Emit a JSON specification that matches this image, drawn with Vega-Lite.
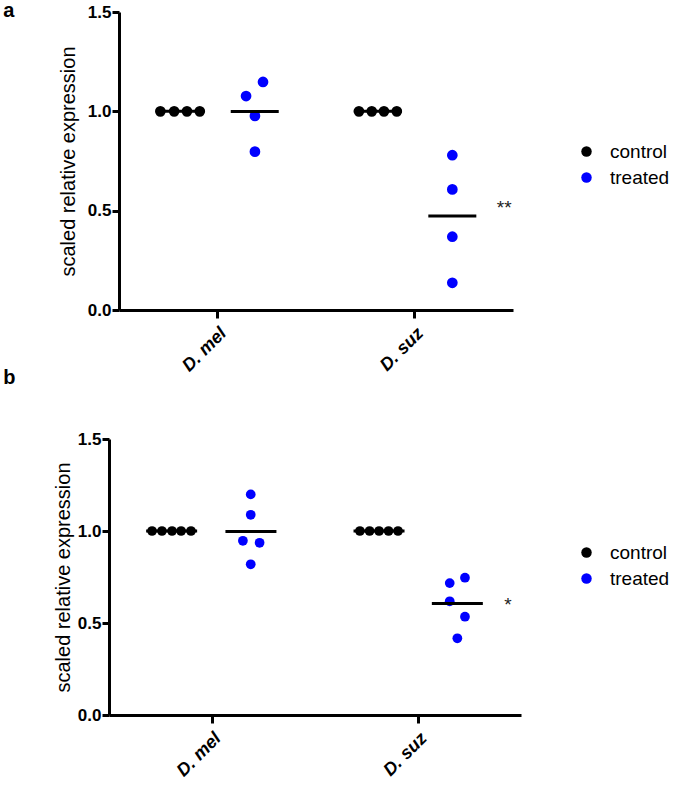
{
  "$schema": "https://vega.github.io/schema/vega-lite/v6.json",
  "padding": {"left": 3, "top": 1, "right": 0, "bottom": 0},
  "background": "white",
  "spacing": -7,
  "config": {
    "font": "Liberation Sans",
    "view": {"stroke": null},
    "axis": {
      "domainColor": "black", "domainWidth": 3, "tickColor": "black", "tickWidth": 3, "tickSize": 7,
      "labelColor": "black", "labelFont": "Liberation Sans", "labelFontWeight": "bold", "grid": false,
      "titleColor": "black", "titleFont": "Liberation Sans"
    },
    "legend": {
      "title": null, "labelFontSize": 19, "symbolSize": 110, "symbolType": "circle", "labelOffset": 14,
      "rowPadding": 6, "labelColor": "black", "labelFont": "Liberation Sans", "padding": 0
    },
    "title": {"font": "Liberation Sans", "fontSize": 20, "fontWeight": "bold", "color": "black", "anchor": "start", "frame": "bounds"}
  },
  "datasets": {
    "a": [
      {"species": "D. mel", "group": "control", "value": 1.0, "jitter": -0.29},
      {"species": "D. mel", "group": "control", "value": 1.0, "jitter": -0.22},
      {"species": "D. mel", "group": "control", "value": 1.0, "jitter": -0.155},
      {"species": "D. mel", "group": "control", "value": 1.0, "jitter": -0.09},
      {"species": "D. mel", "group": "treated", "value": 1.077, "jitter": 0.145},
      {"species": "D. mel", "group": "treated", "value": 1.148, "jitter": 0.231},
      {"species": "D. mel", "group": "treated", "value": 0.977, "jitter": 0.19},
      {"species": "D. mel", "group": "treated", "value": 0.797, "jitter": 0.19},
      {"species": "D. suz", "group": "control", "value": 1.0, "jitter": -0.282},
      {"species": "D. suz", "group": "control", "value": 1.0, "jitter": -0.217},
      {"species": "D. suz", "group": "control", "value": 1.0, "jitter": -0.155},
      {"species": "D. suz", "group": "control", "value": 1.0, "jitter": -0.09},
      {"species": "D. suz", "group": "treated", "value": 0.779, "jitter": 0.192},
      {"species": "D. suz", "group": "treated", "value": 0.607, "jitter": 0.192},
      {"species": "D. suz", "group": "treated", "value": 0.369, "jitter": 0.192},
      {"species": "D. suz", "group": "treated", "value": 0.137, "jitter": 0.192}
    ],
    "b": [
      {"species": "D. mel", "group": "control", "value": 1.0, "jitter": -0.291},
      {"species": "D. mel", "group": "control", "value": 1.0, "jitter": -0.243},
      {"species": "D. mel", "group": "control", "value": 1.0, "jitter": -0.194},
      {"species": "D. mel", "group": "control", "value": 1.0, "jitter": -0.15},
      {"species": "D. mel", "group": "control", "value": 1.0, "jitter": -0.102},
      {"species": "D. mel", "group": "treated", "value": 1.199, "jitter": 0.188},
      {"species": "D. mel", "group": "treated", "value": 1.088, "jitter": 0.188},
      {"species": "D. mel", "group": "treated", "value": 0.947, "jitter": 0.15},
      {"species": "D. mel", "group": "treated", "value": 0.936, "jitter": 0.231},
      {"species": "D. mel", "group": "treated", "value": 0.819, "jitter": 0.188},
      {"species": "D. suz", "group": "control", "value": 1.0, "jitter": -0.282},
      {"species": "D. suz", "group": "control", "value": 1.0, "jitter": -0.235},
      {"species": "D. suz", "group": "control", "value": 1.0, "jitter": -0.189},
      {"species": "D. suz", "group": "control", "value": 1.0, "jitter": -0.143},
      {"species": "D. suz", "group": "control", "value": 1.0, "jitter": -0.097},
      {"species": "D. suz", "group": "treated", "value": 0.717, "jitter": 0.154},
      {"species": "D. suz", "group": "treated", "value": 0.746, "jitter": 0.228},
      {"species": "D. suz", "group": "treated", "value": 0.618, "jitter": 0.154},
      {"species": "D. suz", "group": "treated", "value": 0.534, "jitter": 0.228},
      {"species": "D. suz", "group": "treated", "value": 0.417, "jitter": 0.191}
    ],
    "sigA": [{"species": "D. suz", "sig": "**"}],
    "sigB": [{"species": "D. suz", "sig": "*"}]
  },
  "resolve": {
    "scale": {"x": "independent", "y": "independent", "xOffset": "independent", "color": "independent"},
    "legend": {"color": "independent"}
  },
  "vconcat": [
    {
      "width": 394, "height": 298,
      "title": {"text": "a", "dx": -55, "dy": 18, "offset": 0},
      "data": {"name": "a"},
      "layer": [
        {
          "mark": {"type": "point", "filled": true, "size": 115, "opacity": 1},
          "encoding": {
            "x": {"field": "species", "type": "nominal", "scale": {"paddingInner": 0, "paddingOuter": 0},
                  "axis": {"title": null, "labelAngle": -45, "labelFontSize": 18, "labelFontStyle": "italic", "labelPadding": 6, "domainWidth": 3, "tickWidth": 3, "tickSize": 8}},
            "xOffset": {"field": "jitter", "type": "quantitative", "scale": {"domain": [-0.5, 0.5]}},
            "y": {"field": "value", "type": "quantitative", "scale": {"domain": [0, 1.5], "nice": false},
                  "axis": {"values": [0, 0.5, 1, 1.5], "format": ".1f", "title": "scaled relative expression", "titleFontSize": 20, "titleFontWeight": "normal", "titlePadding": 9, "labelFontSize": 17, "labelPadding": 1, "domainWidth": 3, "tickWidth": 3}},
            "color": {"field": "group", "type": "nominal", "scale": {"domain": ["control", "treated"], "range": ["#000000", "#0000ff"]},
                      "legend": {"orient": "none", "legendX": 458, "legendY": 130}}
          }
        },
        {
          "transform": [{"aggregate": [{"op": "mean", "field": "value", "as": "value"}, {"op": "mean", "field": "jitter", "as": "jitter"}], "groupby": ["species", "group"]}],
          "mark": {"type": "tick", "orient": "horizontal", "size": 48, "thickness": 3, "color": "black", "opacity": 1},
          "encoding": {
            "x": {"field": "species", "type": "nominal"},
            "xOffset": {"field": "jitter", "type": "quantitative"},
            "y": {"field": "value", "type": "quantitative"}
          }
        },
        {
          "transform": [
            {"aggregate": [{"op": "mean", "field": "value", "as": "value"}], "groupby": ["species", "group"]},
            {"filter": "datum.group === 'treated'"},
            {"lookup": "species", "from": {"data": {"name": "sigA"}, "key": "species", "fields": ["sig"]}},
            {"filter": "datum.sig != null"}
          ],
          "mark": {"type": "text", "fontSize": 19, "baseline": "middle", "align": "center", "dy": -8, "color": "#222222"},
          "encoding": {
            "x": {"field": "species", "type": "nominal"},
            "xOffset": {"datum": 0.455, "type": "quantitative"},
            "y": {"field": "value", "type": "quantitative"},
            "text": {"field": "sig"}
          }
        }
      ]
    },
    {
      "width": 402, "height": 276,
      "title": {"text": "b", "dx": -50, "offset": 42},
      "data": {"name": "b"},
      "layer": [
        {
          "mark": {"type": "point", "filled": true, "size": 95, "opacity": 1},
          "encoding": {
            "x": {"field": "species", "type": "nominal", "scale": {"paddingInner": 0, "paddingOuter": 0, "range": [-10, 402]},
                  "axis": {"title": null, "labelAngle": -45, "labelFontSize": 18, "labelFontStyle": "italic", "labelPadding": 6, "domainWidth": 3, "tickWidth": 3, "tickSize": 8}},
            "xOffset": {"field": "jitter", "type": "quantitative", "scale": {"domain": [-0.5, 0.5]}},
            "y": {"field": "value", "type": "quantitative", "scale": {"domain": [0, 1.5], "nice": false},
                  "axis": {"values": [0, 0.5, 1, 1.5], "format": ".1f", "title": "scaled relative expression", "titleFontSize": 20, "titleFontWeight": "normal", "titlePadding": 4, "labelFontSize": 17, "labelPadding": 1, "offset": 10, "domainWidth": 3, "tickWidth": 3}},
            "color": {"field": "group", "type": "nominal", "scale": {"domain": ["control", "treated"], "range": ["#000000", "#0000ff"]},
                      "legend": {"orient": "none", "legendX": 458, "legendY": 104}}
          }
        },
        {
          "transform": [{"aggregate": [{"op": "mean", "field": "value", "as": "value"}, {"op": "mean", "field": "jitter", "as": "jitter"}], "groupby": ["species", "group"]}],
          "mark": {"type": "tick", "orient": "horizontal", "size": 51, "thickness": 3, "color": "black", "opacity": 1},
          "encoding": {
            "x": {"field": "species", "type": "nominal"},
            "xOffset": {"field": "jitter", "type": "quantitative"},
            "y": {"field": "value", "type": "quantitative"}
          }
        },
        {
          "transform": [
            {"aggregate": [{"op": "mean", "field": "value", "as": "value"}], "groupby": ["species", "group"]},
            {"filter": "datum.group === 'treated'"},
            {"lookup": "species", "from": {"data": {"name": "sigB"}, "key": "species", "fields": ["sig"]}},
            {"filter": "datum.sig != null"}
          ],
          "mark": {"type": "text", "fontSize": 19, "baseline": "middle", "align": "center", "dy": 2, "color": "#222222"},
          "encoding": {
            "x": {"field": "species", "type": "nominal"},
            "xOffset": {"datum": 0.437, "type": "quantitative"},
            "y": {"field": "value", "type": "quantitative"},
            "text": {"field": "sig"}
          }
        }
      ]
    }
  ]
}
